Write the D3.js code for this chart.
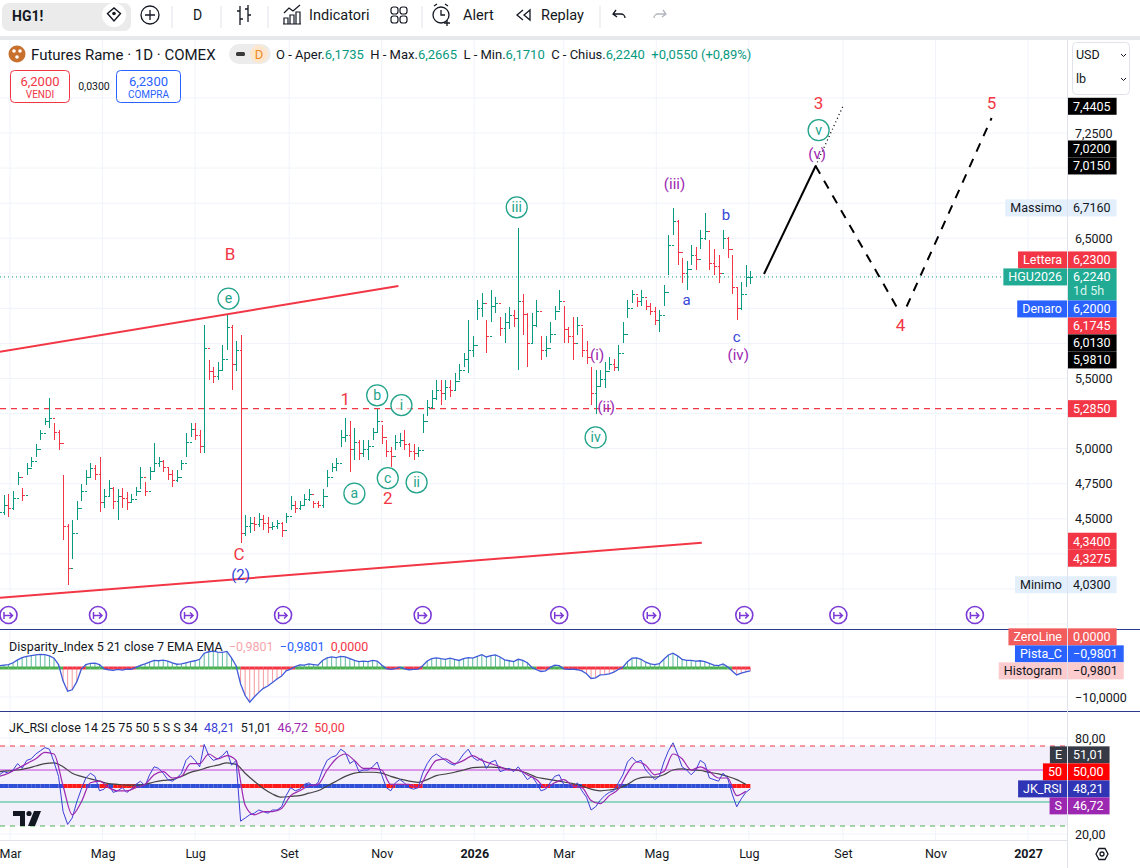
<!DOCTYPE html>
<html><head><meta charset="utf-8">
<script src="https://cdn.jsdelivr.net/npm/d3@7"></script>
<style>
body{margin:0;background:#fff;overflow:hidden}
svg{display:block;font-family:Roboto,"Noto Sans",sans-serif}
</style></head><body>
<svg id="c" width="1140" height="868"></svg>
<script>
// ---------------- DATA ----------------
const barStart = "2025-02-22";   // first bar date
const barStepDays = 3;           // each bar = 3 calendar days
const highs = [4.66,4.67,4.68,4.70,4.83,4.72,4.90,4.94,5.03,5.13,
 5.22,5.36,5.18,5.13,4.81,4.46,4.49,4.63,4.75,4.85,
 4.90,4.88,4.94,4.71,4.78,4.73,4.71,4.72,4.69,4.68,
 4.73,4.87,4.76,4.87,5.04,4.94,4.92,4.87,4.85,4.85,
 4.92,5.11,5.18,5.18,5.13,5.88,5.63,5.58,5.62,5.74,
 5.95,5.88,5.77,5.81,4.53,4.51,4.51,4.54,4.53,4.51,
 4.48,4.49,4.48,4.54,4.66,4.63,4.63,4.68,4.71,4.63,
 4.63,4.71,4.85,4.90,4.93,5.13,5.22,5.20,5.15,5.06,
 5.06,5.06,5.15,5.28,5.17,5.06,5.01,5.10,5.11,5.13,
 5.04,5.03,5.01,5.25,5.35,5.42,5.49,5.49,5.49,5.49,
 5.54,5.60,5.68,5.92,5.80,6.06,6.11,5.92,6.13,6.08,
 5.94,5.97,6.01,5.99,6.57,6.10,5.97,5.97,6.06,5.80,
 5.80,5.90,6.02,6.13,6.02,5.87,5.94,5.94,5.86,5.77,
 5.58,5.56,5.56,5.62,5.65,5.64,5.74,5.90,6.06,6.13,
 6.08,6.13,6.06,6.04,6.01,5.99,6.17,6.52,6.716,6.63,
 6.36,6.34,6.45,6.44,6.56,6.68,6.49,6.42,6.38,6.56,
 6.51,6.38,6.15,6.19,6.31,6.2665];
const lows = [4.49,4.53,4.51,4.56,4.74,4.63,4.81,4.87,4.94,5.06,
 5.17,5.15,5.06,4.99,4.35,4.03,4.21,4.49,4.63,4.74,
 4.80,4.78,4.55,4.58,4.66,4.57,4.49,4.58,4.56,4.61,
 4.66,4.71,4.66,4.78,4.83,4.87,4.83,4.78,4.73,4.76,
 4.85,4.94,5.08,5.06,4.97,4.97,5.49,5.47,5.49,5.56,
 5.70,5.42,5.55,4.33,4.38,4.40,4.41,4.44,4.42,4.40,
 4.42,4.43,4.37,4.47,4.56,4.54,4.56,4.60,4.63,4.58,
 4.58,4.58,4.73,4.83,4.84,5.01,5.05,4.83,4.92,4.92,
 4.94,4.92,5.06,5.11,5.03,4.94,4.87,4.99,5.01,4.99,
 4.94,4.92,4.94,5.11,5.23,5.28,5.35,5.31,5.35,5.37,
 5.42,5.49,5.58,5.54,5.65,5.92,5.94,5.68,5.90,5.97,
 5.80,5.75,5.85,5.87,5.56,5.81,5.58,5.75,5.87,5.63,
 5.65,5.75,5.92,5.99,5.75,5.75,5.63,5.81,5.65,5.60,
 5.31,5.25,5.45,5.43,5.56,5.55,5.55,5.75,5.93,6.04,
 6.01,6.02,5.99,5.95,5.88,5.83,6.02,6.24,6.52,6.31,
 6.18,6.13,6.31,6.27,6.42,6.49,6.27,6.24,6.18,6.42,
 6.36,6.10,5.92,5.99,6.15,6.171];
const closes = [4.55,4.60,4.58,4.65,4.80,4.67,4.86,4.91,5.00,5.11,
 5.20,5.22,5.12,5.04,4.45,4.15,4.40,4.58,4.70,4.80,
 4.86,4.82,4.62,4.66,4.72,4.63,4.66,4.65,4.62,4.64,
 4.70,4.80,4.70,4.84,4.90,4.91,4.87,4.82,4.78,4.80,
 4.90,5.05,5.14,5.10,5.02,5.72,5.55,5.52,5.56,5.64,
 5.87,5.60,5.70,4.40,4.45,4.47,4.46,4.50,4.47,4.44,
 4.45,4.47,4.42,4.52,4.60,4.58,4.60,4.64,4.68,4.61,
 4.60,4.66,4.80,4.87,4.90,5.08,5.10,5.00,5.05,4.97,
 5.00,5.02,5.12,5.20,5.08,4.98,4.95,5.05,5.06,5.03,
 4.98,4.97,4.99,5.20,5.30,5.36,5.42,5.40,5.44,5.42,
 5.48,5.56,5.64,5.70,5.74,6.00,6.04,5.80,6.02,6.04,
 5.86,5.90,5.95,5.93,6.05,5.96,5.75,5.88,5.98,5.70,
 5.72,5.82,5.98,6.05,5.85,5.80,5.75,5.88,5.70,5.65,
 5.40,5.45,5.50,5.55,5.60,5.58,5.68,5.82,6.00,6.10,
 6.05,6.08,6.02,5.98,5.92,5.95,6.12,6.45,6.62,6.40,
 6.25,6.28,6.38,6.35,6.50,6.55,6.32,6.30,6.25,6.50,
 6.42,6.15,6.00,6.10,6.22,6.224];
const disparity = [0.8,1.0,1.2,1.8,2.8,3.6,4.0,4.3,4.5,4.7,
 4.6,4.2,3.4,1.2,-4.5,-8.0,-7.5,-4.8,-0.4,1.2,
 1.6,1.7,1.2,-0.3,-0.6,-0.8,-0.5,-0.7,-0.4,-0.5,
 0.2,0.9,1.4,2.0,2.6,2.5,2.7,2.4,1.8,1.3,
 1.4,1.8,2.2,2.5,3.0,5.1,5.6,5.8,5.5,5.4,
 5.7,3.5,0.8,-5.5,-9.5,-11.8,-10.0,-8.4,-7.0,-6.2,
 -5.0,-3.8,-2.8,-1.0,-0.4,0.5,1.1,1.0,1.4,1.2,
 1.0,2.6,3.5,3.8,3.6,4.0,3.8,3.2,2.6,2.2,
 2.4,2.2,2.6,2.4,1.0,-0.2,-0.5,-0.2,0.3,-0.3,
 -0.6,-0.5,-0.4,0.8,2.4,3.2,3.5,3.2,3.0,3.4,
 3.0,2.6,3.2,3.6,3.4,4.0,4.6,3.8,4.3,4.5,
 3.8,2.8,2.5,2.2,3.0,2.6,1.8,0.2,-0.6,-1.2,
 -1.0,0.2,1.0,0.8,-0.3,-0.5,-0.4,-0.6,-1.0,-2.0,
 -3.6,-3.4,-2.4,-2.3,-2.0,-1.4,-0.5,0.3,2.2,3.4,
 3.5,3.0,2.0,1.4,1.2,1.5,3.0,4.5,5.1,4.2,
 3.0,2.6,2.6,2.4,2.5,2.2,1.6,1.0,0.8,1.4,
 0.4,-1.0,-2.4,-1.8,-1.3,-0.9801];
const rsi = [57,59,58,60,64,61,66,67,70,72,
 74,73,65,56,34,26,30,40,48,55,
 58,56,47,48,51,46,47,49,46,48,
 51,53,50,57,62,61,58,54,53,55,
 58,66,69,66,62,76,69,66,67,69,
 72,63,66,28,30,32,33,35,34,33,
 35,35,37,44,49,47,48,51,52,50,
 52,60,66,68,69,73,71,64,66,59,
 60,60,62,65,57,49,47,52,54,52,
 49,48,49,58,64,68,70,68,66,64,
 63,66,70,73,68,66,67,61,65,66,
 59,60,61,59,62,58,54,56,52,47,
 48,52,56,57,51,50,49,52,47,43,
 35,37,41,44,46,47,52,57,65,68,
 65,66,60,57,54,56,65,72,77,70,
 62,60,57,60,66,64,55,54,53,58,
 55,45,37,42,46,48.21];
// S and E lines: one value every 2 bars
const rsiSignal = [56,58,61,64,67,71,70,50,32,40,52,53,49,47,47,49,51,57,59,55,
 56,64,64,70,67,69,66,38,32,34,34,36,44,47,50,51,60,67,70,66,
 61,61,60,51,51,51,49,58,66,67,64,66,69,66,64,62,60,60,57,54,
 49,52,54,50,49,41,39,44,48,58,65,63,57,59,70,67,60,62,59,55,
 55,44,46.72];
const rsiSlow = [59,59.5,60,61,62.5,64,64.5,62,58,56,54.5,53,51.5,51,50.5,50.5,51,52.5,53.5,54,
 56,58.5,60,61.8,63,64.5,63.5,58,53,48.5,45,43,43.5,44,45.5,47,50,53,56,58,
 58.6,58.6,58,56,54.4,53,52.3,54,56.5,57.5,58.6,60,61.5,61.8,61.8,61.5,60.5,59.7,58,55.5,
 54.5,53.5,52.5,51.5,50,48,47,47.5,48.5,51,54.4,55.5,55.5,57,60,60.7,60,59.7,58.5,57.6,
 56,54,51.01];
const tickDates = ["2025-03-01","2025-05-01","2025-07-01","2025-09-01","2025-11-01","2026-01-01",
 "2026-03-01","2026-05-01","2026-07-01","2026-09-01","2026-11-01","2027-01-01"];
const tickLabels = ["Mar","Mag","Lug","Set","Nov","2026","Mar","Mag","Lug","Set","Nov","2027"];
const priceTicks = [3.75,4.0,4.25,4.5,4.75,5.0,5.25,5.5,5.75,6.0,6.25,6.5,6.75,7.0,7.25,7.5];
const rolloverDates = ["2025-02-28","2025-04-28","2025-06-27","2025-08-28","2025-11-28",
 "2026-02-26","2026-04-28","2026-06-28","2026-08-29","2026-11-27"];
const upperTrend = [["2025-02-22",5.69],["2025-11-12",6.16]];
const lowerTrend = [["2025-02-22",3.936],["2026-05-31",4.33]];
const supportLevel = 5.285;
const lastPrice = 6.224;
const projSolid = [["2026-07-11",6.245],["2026-08-14",7.015]];
const projDotted = [["2026-08-14",7.015],["2026-09-01",7.4405]];
const projDown = [["2026-08-14",7.015],["2026-10-08",5.981]];
const projUp = [["2026-10-13",6.013],["2026-12-08",7.357]];
const waveLabels = [
 {t:"B",d:"2025-07-24",p:6.39,k:"red"},
 {t:"e",d:"2025-07-23",p:6.07,k:"circ"},
 {t:"C",d:"2025-07-30",p:4.25,k:"red"},
 {t:"(2)",d:"2025-07-31",p:4.10,k:"blue"},
 {t:"1",d:"2025-10-08",p:5.35,k:"red"},
 {t:"b",d:"2025-10-29",p:5.38,k:"circ"},
 {t:"i",d:"2025-11-14",p:5.31,k:"circ"},
 {t:"a",d:"2025-10-14",p:4.68,k:"circ"},
 {t:"c",d:"2025-11-05",p:4.79,k:"circ"},
 {t:"2",d:"2025-11-05",p:4.645,k:"red"},
 {t:"ii",d:"2025-11-24",p:4.76,k:"circ"},
 {t:"iii",d:"2026-01-29",p:6.72,k:"circ"},
 {t:"(i)",d:"2026-03-23",p:5.67,k:"purple"},
 {t:"(ii)",d:"2026-03-29",p:5.30,k:"purple"},
 {t:"iv",d:"2026-03-22",p:5.08,k:"circ"},
 {t:"(iii)",d:"2026-05-13",p:6.89,k:"purple"},
 {t:"a",d:"2026-05-21",p:6.06,k:"blue"},
 {t:"b",d:"2026-06-16",p:6.67,k:"blue"},
 {t:"c",d:"2026-06-23",p:5.80,k:"blue"},
 {t:"(iv)",d:"2026-06-24",p:5.67,k:"purple"},
 {t:"3",d:"2026-08-16",p:7.46,k:"red"},
 {t:"v",d:"2026-08-16",p:7.27,k:"circ"},
 {t:"(v)",d:"2026-08-15",p:7.10,k:"purple"},
 {t:"4",d:"2026-10-09",p:5.88,k:"red"},
 {t:"5",d:"2026-12-08",p:7.46,k:"red"}
];
const mainTags = [
 {name:"",v:7.4405,k:"black"},{name:"",v:7.02,k:"black"},{name:"",v:7.015,k:"black"},
 {name:"Massimo",v:6.716,k:"light"},{name:"Lettera",v:6.23,k:"red"},
 {name:"HGU2026",v:6.224,k:"teal",sub:"1d 5h",anchor:true},
 {name:"Denaro",v:6.20,k:"blue"},{name:"",v:6.1745,k:"red"},
 {name:"",v:6.013,k:"black"},{name:"",v:5.981,k:"black"},
 {name:"",v:5.285,k:"red"},{name:"",v:4.34,k:"red"},{name:"",v:4.3275,k:"red"},
 {name:"Minimo",v:4.03,k:"light"}];
const dispTags = [{name:"ZeroLine",v:0,k:"zero"},{name:"Pista_C",v:-0.9801,k:"blue"},{name:"Histogram",v:-0.9801,k:"pink",anchor:true}];
const rsiTags = [{name:"E",v:51.01,k:"dark"},{name:"50",v:50,k:"bright"},{name:"JK_RSI",v:48.21,k:"indigo",anchor:true},{name:"S",v:46.72,k:"purple"}];

// ---------------- SETUP ----------------
const P = d3.utcParse("%Y-%m-%d");
const AX = 1067;
const svg = d3.select("#c");
svg.append("rect").attr("width",1140).attr("height",868).attr("fill","#fff");
const x = d3.scaleUtc().domain([P("2025-03-01"),P("2027-01-01")]).range([10,1028]);
const yP = d3.scaleLinear().domain([3.75,7.25]).range([624,133]);
const yD = d3.scaleLinear().domain([-10,0]).range([697,668]);
const yR = d3.scaleLinear().domain([20,80]).range([834,738]);
const barDates = closes.map((c,i)=>d3.utcDay.offset(P(barStart), i*barStepDays));
const halfDates = rsiSignal.map((c,k)=>d3.utcDay.offset(P(barStart), 2*k*barStepDays));
const comma = f => v => d3.format(f)(v).replace(".",",");
const f4 = comma(".4f"), f2 = comma(".2f");
const TEAL="#089981", RED="#f23645";

const defs = svg.append("defs");
defs.append("clipPath").attr("id","cm").append("rect").attr("x",0).attr("y",40).attr("width",AX).attr("height",589);
defs.append("clipPath").attr("id","cd").append("rect").attr("x",0).attr("y",630).attr("width",AX).attr("height",80);
defs.append("clipPath").attr("id","cr").append("rect").attr("x",0).attr("y",712).attr("width",AX).attr("height",128);

// ---------------- GRID ----------------
const grid = svg.append("g");
grid.selectAll(".vg").data(tickDates).join("line")
 .attr("x1",d=>x(P(d))).attr("x2",d=>x(P(d))).attr("y1",40).attr("y2",840).attr("stroke","#f0f3fa");
grid.selectAll(".hg").data(priceTicks).join("line")
 .attr("x1",0).attr("x2",AX).attr("y1",d=>yP(d)).attr("y2",d=>yP(d)).attr("stroke","#f0f3fa");
[yD(-10),yR(80),yR(20)].forEach(v=>grid.append("line").attr("x1",0).attr("x2",AX).attr("y1",v).attr("y2",v).attr("stroke","#f0f3fa"));

// ---------------- MAIN PANE ----------------
const main = svg.append("g").attr("clip-path","url(#cm)");
const line = d3.line().x(d=>x(P(d[0]))).y(d=>yP(d[1]));
main.append("line").attr("x1",0).attr("x2",AX).attr("y1",yP(supportLevel)).attr("y2",yP(supportLevel))
 .attr("stroke",RED).attr("stroke-width",1.2).attr("stroke-dasharray","6,5");
main.append("line").attr("x1",0).attr("x2",AX).attr("y1",yP(lastPrice)).attr("y2",yP(lastPrice))
 .attr("stroke",TEAL).attr("stroke-width",1).attr("stroke-dasharray","1,3");
main.append("path").attr("d",line(upperTrend)).attr("stroke",RED).attr("stroke-width",2).attr("fill","none");
main.append("path").attr("d",line(lowerTrend)).attr("stroke",RED).attr("stroke-width",2).attr("fill","none");

// OHLC bars
const bars = main.append("g").attr("shape-rendering","crispEdges");
closes.forEach((c,i)=>{
  const o = i===0 ? c : closes[i-1];
  const col = c>=o ? TEAL : RED;
  const xi = Math.round(x(barDates[i]))+0.5;
  bars.append("line").attr("x1",xi).attr("x2",xi).attr("y1",yP(highs[i])).attr("y2",yP(lows[i])).attr("stroke",col);
  bars.append("line").attr("x1",xi-2).attr("x2",xi).attr("y1",Math.round(yP(o))+0.5).attr("y2",Math.round(yP(o))+0.5).attr("stroke",col);
  bars.append("line").attr("x1",xi).attr("x2",xi+2.5).attr("y1",Math.round(yP(c))+0.5).attr("y2",Math.round(yP(c))+0.5).attr("stroke",col);
});

// projections
main.append("path").attr("d",line(projSolid)).attr("stroke","#000").attr("stroke-width",2).attr("fill","none");
main.append("path").attr("d",line(projDotted)).attr("stroke","#000").attr("stroke-width",1.3).attr("stroke-dasharray","1,3").attr("fill","none");
main.append("path").attr("d",line(projDown)).attr("stroke","#000").attr("stroke-width",2).attr("stroke-dasharray","9,8").attr("fill","none");
main.append("path").attr("d",line(projUp)).attr("stroke","#000").attr("stroke-width",2).attr("stroke-dasharray","9,8").attr("fill","none");

// wave labels
const wcol = {red:RED, circ:"#22a38a", purple:"#9c27b0", blue:"#3546d8"};
waveLabels.forEach(w=>{
  const cx = x(P(w.d)), cy = yP(w.p);
  if (w.k==="circ") main.append("circle").attr("cx",cx).attr("cy",cy).attr("r",10.5).attr("fill","#fff").attr("fill-opacity",0.6).attr("stroke",wcol.circ).attr("stroke-width",1.3);
  main.append("text").attr("x",cx).attr("y",cy).attr("dy","0.35em").attr("text-anchor","middle")
   .attr("fill",wcol[w.k]).attr("font-size",w.k==="red"?17:(w.k==="circ"?14:15)).text(w.t);
});

// rollover icons
rolloverDates.forEach(d=>{
  const cx = x(P(d)), cy=615;
  const g = main.append("g").attr("transform",`translate(${cx},${cy})`);
  g.append("circle").attr("r",8.5).attr("fill","#fff").attr("stroke","#7b3ad6").attr("stroke-width",1.6);
  g.append("path").attr("d","M-4.5,0.5 H4 M1,-2.5 L4,0.5 L1,3.5 M-4.5,-3 V4").attr("stroke","#7b3ad6").attr("stroke-width",1.5).attr("fill","none");
});

// ---------------- DISPARITY PANE ----------------
const dp = svg.append("g").attr("clip-path","url(#cd)");
disparity.forEach((v,i)=>{
  const xi = x(barDates[i]);
  dp.append("line").attr("x1",xi).attr("x2",xi).attr("y1",yD(0)).attr("y2",yD(v))
   .attr("stroke", v>=0 ? "#5fb9a0" : "#f49a9f").attr("stroke-width",1);
});
for (let i=0;i<disparity.length-1;i++){
  dp.append("line").attr("x1",x(barDates[i])).attr("x2",x(barDates[i+1])).attr("y1",yD(0)).attr("y2",yD(0))
   .attr("stroke", disparity[i]>=0 ? "#4caf50" : RED).attr("stroke-width",3);
}
dp.append("path").datum(disparity).attr("d",d3.line().x((v,i)=>x(barDates[i])).y(v=>yD(v)))
 .attr("fill","none").attr("stroke","#3f5bd9").attr("stroke-width",1.3);

// ---------------- RSI PANE ----------------
const rp = svg.append("g").attr("clip-path","url(#cr)");
rp.append("rect").attr("x",0).attr("width",AX).attr("y",yR(75)).attr("height",yR(25)-yR(75)).attr("fill","#f3effb");
rp.append("line").attr("x1",0).attr("x2",AX).attr("y1",yR(75)).attr("y2",yR(75)).attr("stroke",RED).attr("stroke-dasharray","5,5");
rp.append("line").attr("x1",0).attr("x2",AX).attr("y1",yR(25)).attr("y2",yR(25)).attr("stroke","#4caf50").attr("stroke-dasharray","5,5");
rp.append("line").attr("x1",0).attr("x2",AX).attr("y1",yR(60)).attr("y2",yR(60)).attr("stroke","#c23fd6").attr("stroke-width",1);
rp.append("line").attr("x1",0).attr("x2",AX).attr("y1",yR(40)).attr("y2",yR(40)).attr("stroke","#2ebd85").attr("stroke-width",1);
for (let i=0;i<rsi.length-1;i++){
  rp.append("line").attr("x1",x(barDates[i])).attr("x2",x(barDates[i+1])).attr("y1",yR(50)).attr("y2",yR(50))
   .attr("stroke", rsi[i]>=50 ? "#2e4fd6" : "#ff1a1a").attr("stroke-width",4);
}
rp.append("path").datum(rsiSlow).attr("d",d3.line().curve(d3.curveMonotoneX).x((v,k)=>x(halfDates[k])).y(v=>yR(v)))
 .attr("fill","none").attr("stroke","#444").attr("stroke-width",1.2);
rp.append("path").datum(rsi).attr("d",d3.line().x((v,i)=>x(barDates[i])).y(v=>yR(v)))
 .attr("fill","none").attr("stroke","#3b3fd6").attr("stroke-width",1);
rp.append("path").datum(rsiSignal).attr("d",d3.line().curve(d3.curveMonotoneX).x((v,k)=>x(halfDates[k])).y(v=>yR(v)))
 .attr("fill","none").attr("stroke","#9c27b0").attr("stroke-width",1.2);

// pane separators & borders
[629,711].forEach(v=>svg.append("line").attr("x1",0).attr("x2",1140).attr("y1",v+0.5).attr("y2",v+0.5).attr("stroke","#2b3a8f"));
svg.append("line").attr("x1",AX+0.5).attr("x2",AX+0.5).attr("y1",40).attr("y2",868).attr("stroke","#e0e3eb");
svg.append("line").attr("x1",0).attr("x2",AX).attr("y1",840.5).attr("y2",840.5).attr("stroke","#e0e3eb");

// ---------------- PRICE TAGS (placement) ----------------
const tagCol = {black:["#000","#fff"],red:[RED,"#fff"],teal:["#22ab94","#fff"],blue:["#2962ff","#fff"],
 light:["#e3effd","#131722"],zero:["#f25c5c","#fff"],pink:["#fccbcd","#131722"],dark:["#363a45","#fff"],
 bright:["#ff0000","#fff"],indigo:["#2f35b5","#fff"],purple:["#9c27b0","#fff"]};
const tagBoxes = [];
function placeTags(tags, yScale){
  const h=17;
  tags.forEach(t=>{t.hh=t.sub?32:h; t.y0=yScale(t.v)-h/2;});
  tags.sort((a,b)=>a.y0-b.y0);
  const ai = tags.findIndex(t=>t.anchor);
  tags[ai].top = tags[ai].y0;
  for(let i=ai+1;i<tags.length;i++){const p=tags[i-1]; tags[i].top=Math.max(tags[i].y0,p.top+p.hh);}
  for(let i=ai-1;i>=0;i--){const n=tags[i+1]; tags[i].top=Math.min(tags[i].y0,n.top-tags[i].hh);}
  tags.forEach(t=>tagBoxes.push([t.top,t.top+t.hh]));
}
placeTags(mainTags,yP); placeTags(dispTags,yD); placeTags(rsiTags,yR);

// ---------------- AXES ----------------
const styleAxis = g => { g.select(".domain").remove(); g.selectAll("text").attr("font-family","Roboto").attr("font-size",12.5).attr("fill","#131722"); };
const hideCovered = (g, sc) => g.selectAll(".tick").filter(d=>{const yy=sc(d); return tagBoxes.some(b=>yy+6>b[0]&&yy-6<b[1]);}).remove();
svg.append("g").attr("transform",`translate(${AX},0)`)
 .call(d3.axisRight(yP).tickValues(priceTicks).tickFormat(f4).tickSize(0).tickPadding(8)).call(styleAxis).call(g=>hideCovered(g,yP));
svg.append("g").attr("transform",`translate(${AX},0)`)
 .call(d3.axisRight(yD).tickValues([-10]).tickFormat(f4).tickSize(0).tickPadding(8)).call(styleAxis);
svg.append("g").attr("transform",`translate(${AX},0)`)
 .call(d3.axisRight(yR).tickValues([20,80]).tickFormat(f2).tickSize(0).tickPadding(8)).call(styleAxis);
const xa = svg.append("g").attr("transform","translate(0,849)")
 .call(d3.axisBottom(x).tickValues(tickDates.map(P)).tickFormat((d,i)=>tickLabels[i]).tickSize(0).tickPadding(0)).call(styleAxis);
xa.selectAll("text").attr("font-weight",(d,i)=>/^\d{4}$/.test(tickLabels[i])?"bold":"normal");

// ---------------- PRICE TAGS (drawing) ----------------
const tagLayer = svg.append("g").attr("font-size",12.5);
function drawTags(tags, fmt){
  const h=17;
  tags.forEach(t=>{
    const [bg,fg]=tagCol[t.k];
    const g=tagLayer.append("g");
    const r=g.append("rect").attr("x",AX+1).attr("y",t.top).attr("height",t.hh).attr("fill",bg);
    const vt=g.append("text").attr("x",AX+6).attr("y",t.top+h/2).attr("dy","0.35em").attr("fill",fg).text(fmt(t.v));
    const w=vt.node().getComputedTextLength();
    if(t.sub){ g.append("text").attr("x",AX+6).attr("y",t.top+h/2+14).attr("dy","0.35em").attr("fill","#d7f5ee").text(t.sub); }
    r.attr("width",w+11);
    if(t.name){
      const nr=g.append("rect").attr("y",t.top).attr("height",h).attr("fill",bg);
      const nt=g.append("text").attr("x",AX-5).attr("y",t.top+h/2).attr("dy","0.35em").attr("text-anchor","end").attr("fill",fg).text(t.name);
      const nw=nt.node().getComputedTextLength();
      nr.attr("x",AX-nw-10).attr("width",nw+10);
    }
  });
}
drawTags(mainTags,f4);
drawTags(dispTags,f4);
drawTags(rsiTags,f2);

// currency box
const cb = svg.append("g");
cb.append("rect").attr("x",1072.5).attr("y",42.5).attr("width",57).attr("height",52).attr("rx",4).attr("fill","#fff").attr("stroke","#e0e3eb");
cb.append("text").attr("x",1076).attr("y",59).attr("font-size",12.5).attr("fill","#131722").text("USD");
cb.append("text").attr("x",1076).attr("y",83).attr("font-size",12.5).attr("fill","#131722").text("lb");
[55,79].forEach(v=>cb.append("path").attr("d",`M1121,${v-1} l2.5,2.5 l2.5,-2.5`).attr("stroke","#131722").attr("fill","none"));

// settings icon
svg.append("path").attr("d","M1096,854 l3,-5.5 h6 l3,5.5 l-3,5.5 h-6 z").attr("fill","none").attr("stroke","#131722").attr("stroke-width",1.3);
svg.append("circle").attr("cx",1102).attr("cy",854).attr("r",2).attr("fill","none").attr("stroke","#131722").attr("stroke-width",1.3);

// TV logo
const lg = svg.append("g").attr("fill","#131722");
lg.append("path").attr("d","M13,811 H25 V826 H20 V816 H13 Z");
lg.append("circle").attr("cx",29).attr("cy",813.5).attr("r",2.6);
lg.append("path").attr("d","M34,811 H41 L35,826 H28 Z");

// ---------------- TOOLBAR ----------------
const tb = svg.append("g").attr("fill","#131722");
tb.append("rect").attr("x",0).attr("y",36).attr("width",1140).attr("height",4).attr("fill","#e6e8ec");
tb.append("rect").attr("x",2).attr("y",3).attr("width",129).attr("height",28).attr("rx",7).attr("fill","#ebebeb");
tb.append("text").attr("x",12).attr("y",21).attr("font-size",14).attr("font-weight","bold").text("HG1!");
tb.append("circle").attr("cx",114).attr("cy",15).attr("r",12).attr("fill","#fff");
tb.append("path").attr("d","M107.5,13.5 L114,8 L120.5,13.5 L114,21 Z").attr("fill","none").attr("stroke","#131722").attr("stroke-width",1.4);
tb.append("circle").attr("cx",114).attr("cy",13.5).attr("r",1.8);
tb.append("circle").attr("cx",150).attr("cy",15).attr("r",9).attr("fill","none").attr("stroke","#131722").attr("stroke-width",1.3);
tb.append("path").attr("d","M150,10 V20 M145,15 H155").attr("stroke","#131722").attr("stroke-width",1.3);
tb.append("text").attr("x",193).attr("y",20).attr("font-size",14).text("D");
tb.append("path").attr("d","M240,6 V25 M237,11 H240 M240,19 H243 M248,5 V22 M245,9 H248 M248,15 H251").attr("stroke","#131722").attr("stroke-width",1.3).attr("fill","none");
[172,221,268,422,600].forEach(v=>tb.append("line").attr("x1",v).attr("x2",v).attr("y1",6).attr("y2",28).attr("stroke","#e0e3eb"));
tb.append("path").attr("d","M284,13 L289,8 L293,11 L300,5 M284,24 V18 H288 V24 M290,24 V15 H294 V24 M296,24 V12 H300 V24 M283,24 H301").attr("stroke","#131722").attr("stroke-width",1.2).attr("fill","none");
tb.append("text").attr("x",309).attr("y",20).attr("font-size",14.5).text("Indicatori");
[[391,7],[400,7],[391,16],[400,16]].forEach(p=>tb.append("rect").attr("x",p[0]).attr("y",p[1]).attr("width",7).attr("height",7).attr("rx",2.5).attr("fill","none").attr("stroke","#131722").attr("stroke-width",1.2));
tb.append("circle").attr("cx",441).attr("cy",15).attr("r",8).attr("fill","none").attr("stroke","#131722").attr("stroke-width",1.3);
tb.append("path").attr("d","M441,10 V15 H445 M434,6 L437,4 M448,6 L445,4 M447,20 V26 M444,23 H450").attr("stroke","#131722").attr("stroke-width",1.3).attr("fill","none");
tb.append("text").attr("x",463).attr("y",20).attr("font-size",14.5).text("Alert");
tb.append("path").attr("d","M523,10 L517,15 L523,20 M530,10 L524,15 L530,20 Z").attr("stroke","#131722").attr("stroke-width",1.3).attr("fill","none");
tb.append("text").attr("x",541).attr("y",20).attr("font-size",14.5).text("Replay");
tb.append("path").attr("d","M616,10 L613,14 L617,17 M613,14 H621 A4,4 0 0 1 625,18").attr("stroke","#131722").attr("stroke-width",1.3).attr("fill","none");
tb.append("path").attr("d","M663,10 L666,14 L662,17 M666,14 H658 A4,4 0 0 0 654,18").attr("stroke","#b2b5be").attr("stroke-width",1.3).attr("fill","none");

// ---------------- HEADER ----------------
const hd = svg.append("g");
hd.append("circle").attr("cx",17).attr("cy",54).attr("r",8.5).attr("fill","#c8702e");
[[14,51],[20,51],[17,57]].forEach(p=>hd.append("circle").attr("cx",p[0]).attr("cy",p[1]).attr("r",1.8).attr("fill","#fff"));
hd.append("text").attr("x",31).attr("y",59.5).attr("font-size",15).attr("fill","#131722").text("Futures Rame · 1D · COMEX");
hd.append("rect").attr("x",229).attr("y",44).attr("width",42).attr("height",20).attr("rx",10).attr("fill","#ececec");
hd.append("rect").attr("x",236).attr("y",52).attr("width",9).attr("height",4).attr("rx",1.5).attr("fill","#3a3a3a");
hd.append("circle").attr("cx",259).attr("cy",54).attr("r",9).attr("fill","#fde7cc");
hd.append("text").attr("x",259).attr("y",58.5).attr("text-anchor","middle").attr("font-size",13).attr("fill","#f08a24").text("D");
const ohlc = hd.append("text").attr("x",276).attr("y",59).attr("font-size",13).attr("fill","#131722");
[["O - Aper.","#131722"],["6,1735",TEAL],["  H - Max.","#131722"],["6,2665",TEAL],["  L - Min.","#131722"],["6,1710",TEAL],["  C - Chius.","#131722"],["6,2240",TEAL],["  +0,0550 (+0,89%)",TEAL]]
 .forEach(s=>ohlc.append("tspan").attr("fill",s[1]).attr("xml:space","preserve").text(s[0]));
hd.append("rect").attr("x",10.5).attr("y",70.5).attr("width",59).attr("height",32).attr("rx",4).attr("fill","#fff").attr("stroke",RED);
hd.append("text").attr("x",40).attr("y",86).attr("text-anchor","middle").attr("font-size",13).attr("fill",RED).text("6,2000");
hd.append("text").attr("x",40).attr("y",98).attr("text-anchor","middle").attr("font-size",10).attr("fill",RED).text("VENDI");
hd.append("text").attr("x",94).attr("y",90).attr("text-anchor","middle").attr("font-size",10.5).attr("fill","#131722").text("0,0300");
hd.append("rect").attr("x",116.5).attr("y",70.5).attr("width",64).attr("height",32).attr("rx",4).attr("fill","#fff").attr("stroke","#2962ff");
hd.append("text").attr("x",148.5).attr("y",86).attr("text-anchor","middle").attr("font-size",13).attr("fill","#2962ff").text("6,2300");
hd.append("text").attr("x",148.5).attr("y",98).attr("text-anchor","middle").attr("font-size",10).attr("fill","#2962ff").text("COMPRA");

// indicator titles
const t1 = svg.append("text").attr("x",9).attr("y",651).attr("font-size",12.5).attr("fill","#131722");
[["Disparity_Index 5 21 close 7 EMA EMA  ","#131722"],["−0,9801  ","#f7a5ab"],["−0,9801  ","#2962ff"],["0,0000",RED]]
 .forEach(s=>t1.append("tspan").attr("fill",s[1]).attr("xml:space","preserve").text(s[0]));
const t2 = svg.append("text").attr("x",9).attr("y",732).attr("font-size",12.5).attr("fill","#131722");
[["JK_RSI close 14 25 75 50 5 S S 34  ","#131722"],["48,21  ","#3b3fd6"],["51,01  ","#131722"],["46,72  ","#9c27b0"],["50,00",RED]]
 .forEach(s=>t2.append("tspan").attr("fill",s[1]).attr("xml:space","preserve").text(s[0]));
</script>
</body></html>
